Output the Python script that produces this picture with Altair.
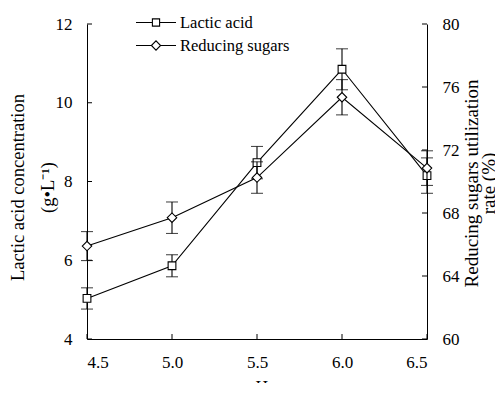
import altair as alt
import pandas as pd

# ---- data ----
ph = [4.5, 5.0, 5.5, 6.0, 6.5]
lactic = [5.03, 5.86, 8.48, 10.85, 8.15]
lactic_err = [0.27, 0.28, 0.41, 0.52, 0.45]
sugars = [65.9, 67.7, 70.25, 75.35, 70.85]
sugars_err = [0.92, 1.0, 1.0, 1.12, 1.1]

x_ticks = [4.5, 5.0, 5.5, 6.0, 6.5]
left_ticks = [4, 6, 8, 10, 12]
right_ticks = [60, 64, 68, 72, 76, 80]
series = ["Lactic acid", "Reducing sugars"]

FONT = "Liberation Serif"
W, H = 340, 315

lac = pd.DataFrame({"pH": ph, "value": lactic,
                    "lo": [v - e for v, e in zip(lactic, lactic_err)],
                    "hi": [v + e for v, e in zip(lactic, lactic_err)]})
sug = pd.DataFrame({"pH": ph, "value": sugars,
                    "lo": [v - e for v, e in zip(sugars, sugars_err)],
                    "hi": [v + e for v, e in zip(sugars, sugars_err)]})

xs = alt.Scale(domain=[4.5, 6.5], nice=False, zero=False)
ysL = alt.Scale(domain=[4, 12], nice=False, zero=False)
ysR = alt.Scale(domain=[60, 80], nice=False, zero=False)

common = dict(ticks=False, grid=False, labelFont=FONT, labelFontSize=17,
              labelColor="black", titleFont=FONT,
              titleColor="black", titleFontWeight="normal",
              domainColor="black", domainWidth=1)

x_axis = alt.Axis(values=x_ticks, format=".1f", labelPadding=15,
                  title="pH", titlePadding=7, titleFontSize=17.5, **common)
left_axis = alt.Axis(values=left_ticks, labelPadding=15,
                     title=["Lactic acid concentration", "(g\u2022L\u207b\u00b9)"],
                     titleFontSize=18.5,
                     titleAngle=-90, titleAlign="center", titleBaseline="middle",
                     titleLineHeight=30, titleX=-70, titleY=163, **common)
right_axis = alt.Axis(orient="right", values=right_ticks, labelPadding=15,
                      title=["Reducing sugars utilization", "rate (%)"],
                      titleFontSize=19,
                      titleAngle=-90, titleAlign="center", titleBaseline="middle",
                      titleLineHeight=17, titleX=44, titleY=159, **common)

X = alt.X("pH:Q", scale=xs, axis=x_axis)


def group(df, ys, axis, shape, size, tick_vals, tick_x):
    base = alt.Chart(df)
    line = base.mark_line(color="black", strokeWidth=1.1).encode(
        x=X, y=alt.Y("value:Q", scale=ys, axis=axis))
    err = base.mark_rule(color="black", strokeWidth=1.1).encode(
        x=X, y=alt.Y("lo:Q", scale=ys, axis=axis), y2="hi:Q")
    cap_lo = base.mark_tick(color="black", orient="horizontal", size=12, thickness=1.1).encode(
        x=X, y=alt.Y("lo:Q", scale=ys, axis=axis))
    cap_hi = base.mark_tick(color="black", orient="horizontal", size=12, thickness=1.1).encode(
        x=X, y=alt.Y("hi:Q", scale=ys, axis=axis))
    pts = base.mark_point(shape=shape, size=size, filled=True, fill="white",
                          stroke="black", strokeWidth=1.1, opacity=1).encode(
        x=X, y=alt.Y("value:Q", scale=ys, axis=axis))
    ticks = alt.Chart(pd.DataFrame({"v": tick_vals})).mark_rule(
        color="black", strokeWidth=1).encode(
        y=alt.Y("v:Q", scale=ys, axis=axis),
        x=alt.value(tick_x[0]), x2=alt.value(tick_x[1]))
    return [line, err, cap_lo, cap_hi, pts, ticks]


left_layers = group(lac, ysL, left_axis, "square", 60, left_ticks, (0, 5))
right_layers = group(sug, ysR, right_axis, "diamond", 90, right_ticks, (W - 5, W))

xtick_layer = alt.Chart(pd.DataFrame({"t": x_ticks})).mark_rule(
    color="black", strokeWidth=1).encode(
    x=alt.X("t:Q", scale=xs, axis=x_axis),
    y=alt.value(H - 5), y2=alt.value(H))

sq_path = "M-1,0H-0.18M0.18,0H1M-0.18,-0.18H0.18V0.18H-0.18Z"
dm_path = "M-1,0H-0.23M0.23,0H1M-0.23,0L0,-0.23L0.23,0L0,0.23Z"
legend_layer = alt.Chart(pd.DataFrame({"series": series})).mark_point(
    opacity=0, filled=False).encode(
    x=alt.value(0), y=alt.value(0),
    shape=alt.Shape("series:N",
                    scale=alt.Scale(domain=series, range=[sq_path, dm_path]),
                    legend=alt.Legend(title=None, orient="none", legendX=48, legendY=-13,
                                      symbolSize=1600, symbolFillColor="white",
                                      symbolStrokeColor="black", symbolStrokeWidth=1.1,
                                      symbolOpacity=1, clipHeight=23, rowPadding=0,
                                      labelOffset=3, labelFont=FONT, labelFontSize=16.5,
                                      labelColor="black", padding=0)))

left = alt.layer(*left_layers, xtick_layer, legend_layer)
right = alt.layer(*right_layers)

chart = alt.layer(left, right).resolve_scale(y="independent").properties(
    width=W, height=H,
    padding={"left": 79, "top": 16, "right": 68, "bottom": 44},
    autosize=alt.AutoSizeParams(type="none"),
).configure(
    font=FONT,
    style={"guide-label": {"font": FONT, "fontSize": 17, "fill": "black"},
           "guide-title": {"font": FONT, "fontWeight": "normal", "fill": "black"}},
).configure_view(stroke=None).configure_axis(labelFont=FONT, titleFont=FONT)

chart.save("out.html", embed_options={"renderer": "svg", "actions": False})
